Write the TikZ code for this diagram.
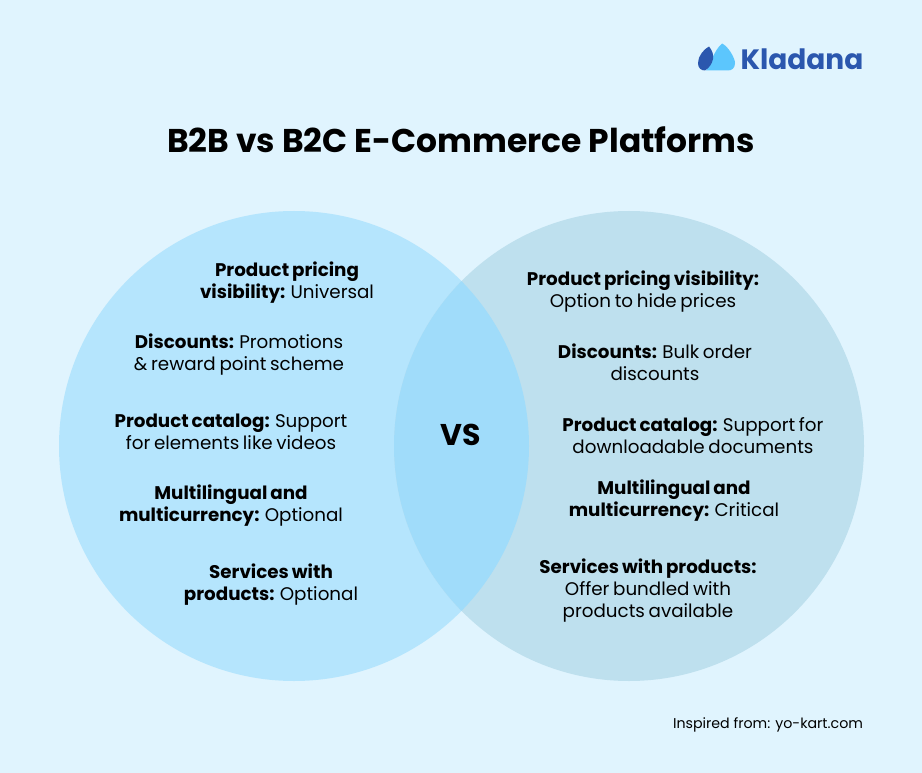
\documentclass[tikz,border=0pt]{standalone}
\usepackage{fontspec}
\setmainfont{Poppins}
\newfontfamily\itemfont[WordSpace=0.75]{Poppins}
\usetikzlibrary{positioning}
\definecolor{bgblue}{HTML}{E0F4FE}
\definecolor{leftblue}{HTML}{B5E5FD}
\definecolor{rightblue}{HTML}{BEE0EE}
\definecolor{midblue}{HTML}{A0DCFA}
\definecolor{logoblue}{HTML}{2B57AE}
\definecolor{logolight}{HTML}{5CC6FD}
\begin{document}
\begin{tikzpicture}[x=1pt,y=-1pt,
    item/.style={font=\itemfont\fontsize{18.3pt}{22pt}\selectfont, align=center, text=black, inner sep=0pt},
    title/.style={font=\fontsize{32.9pt}{36pt}\selectfont\bfseries, text=black, inner sep=0pt}]
    \useasboundingbox (0,0) rectangle (922,773);
    \fill[bgblue] (0,0) rectangle (922,773);
    \fill[leftblue] (294,446) circle (235);
    \fill[rightblue] (629,446) circle (235);
    \begin{scope}
        \clip (294,446) circle (235);
        \fill[midblue] (629,446) circle (235);
    \end{scope}
    % logo
    \fill[logolight] (706,70.5) .. controls (710,66) and (714,50) .. (722,43.5) .. controls (728,46) and (735,58) .. (735,63) .. controls (735,68) and (732,70.5) .. (728,70.5) -- cycle;
    \fill[logoblue] (698,63) .. controls (698,56) and (704,49) .. (709,46.5) .. controls (712,50) and (714,55) .. (713,59) .. controls (712,64) and (709,68) .. (705,70.5) .. controls (701,70.5) and (698,68) .. (698,63) -- cycle;
    \node[inner sep=0pt, text=logoblue, font=\fontsize{28pt}{32pt}\selectfont\bfseries] (logo) at (802,59) {Kladana};
    \node[title] (heading) at (461,140) {B2B vs B2C E-Commerce Platforms};
    \node[inner sep=0pt, font=\fontsize{30pt}{34pt}\selectfont\bfseries] (vs) at (461,435) {VS};
    % left
    \node[item] (lprice) at (287,283) {\textbf{Product pricing}\\\textbf{visibility:} Universal};
    \node[item] (ldisc) at (239,355) {\textbf{Discounts:} Promotions\\\& reward point scheme};
    \node[item] (lcat) at (231,432) {\textbf{Product catalog:} Support\\for elements like videos};
    \node[item] (lmulti) at (231,506) {\textbf{Multilingual and}\\\textbf{multicurrency:} Optional};
    \node[item] (lserv) at (271,585) {\textbf{Services with}\\\textbf{products:} Optional};
    % right
    \node[item] (rprice) at (643,292) {\textbf{Product pricing visibility:}\\Option to hide prices};
    \node[item] (rdisc) at (655,362) {\textbf{Discounts:} Bulk order\\discounts};
    \node[item] (rcat) at (693,436) {\textbf{Product catalog:} Support for\\downloadable documents};
    \node[item] (rmulti) at (674,501) {\textbf{Multilingual and}\\\textbf{multicurrency:} Critical};
    \node[item] (rserv) at (648,591) {\textbf{Services with products:}\\Offer bundled with\\products available};
    \node[inner sep=0pt, font=\fontsize{14.2pt}{17pt}\selectfont] (credit) at (768,725) {Inspired from: yo-kart.com};
\end{tikzpicture}
\end{document}
